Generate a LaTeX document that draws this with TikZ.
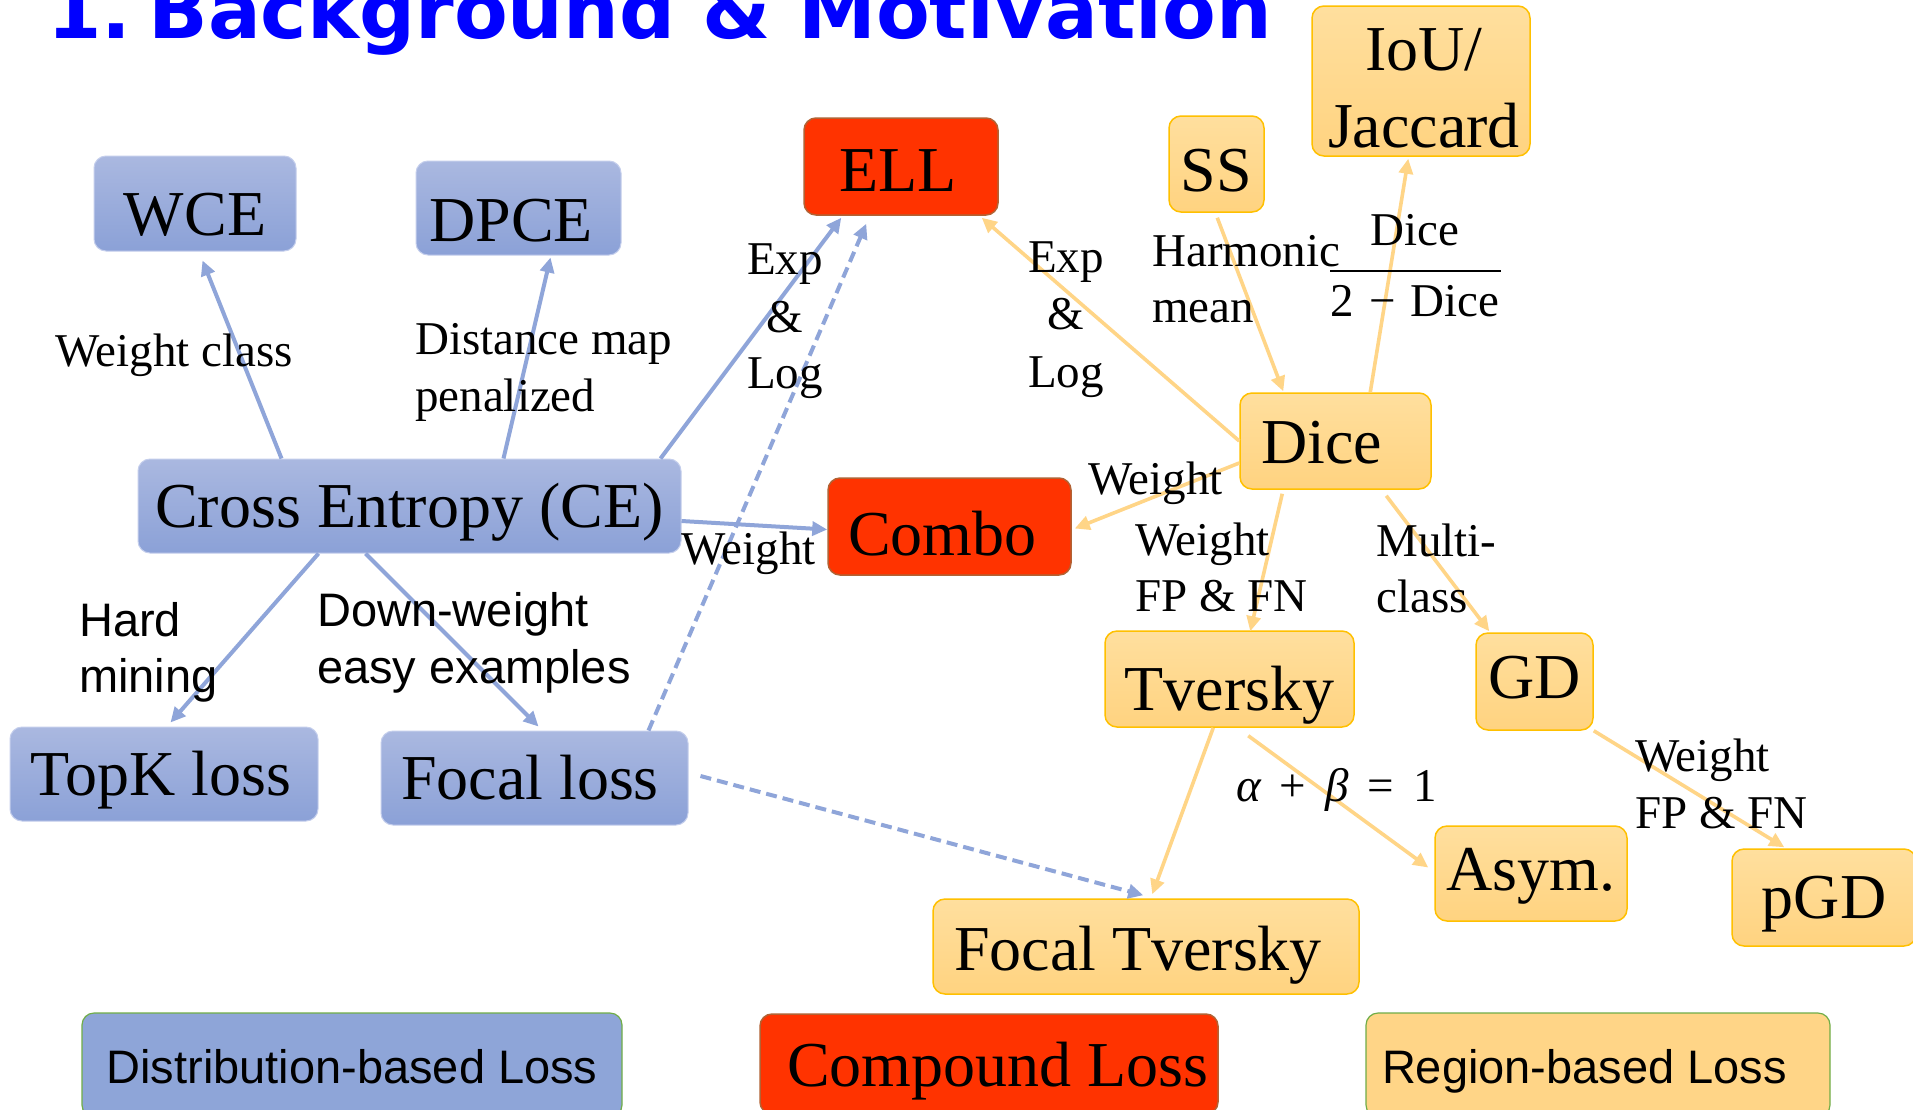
\documentclass[tikz,border=0pt]{standalone}
\usepackage{fontspec}
\setmainfont{Liberation Serif}
\setsansfont{Liberation Sans}
\newfontfamily\headfont{DejaVu Sans}
\usetikzlibrary{arrows.meta,calc}

\definecolor{blueTop}{RGB}{170,184,224}
\definecolor{blueBot}{RGB}{139,161,215}
\definecolor{blueRim}{RGB}{196,206,236}
\definecolor{blueLine}{RGB}{143,165,217}
\definecolor{orTop}{RGB}{255,223,158}
\definecolor{orBot}{RGB}{255,211,128}
\definecolor{orEdge}{RGB}{255,192,0}
\definecolor{orLine}{RGB}{255,213,135}
\definecolor{redFill}{RGB}{255,51,0}
\definecolor{redEdge}{RGB}{178,98,52}
\definecolor{legBlue}{RGB}{142,165,216}
\definecolor{legOr}{RGB}{255,213,135}
\definecolor{legEdge}{RGB}{112,173,71}
\definecolor{titleBlue}{RGB}{0,0,255}

% left-aligned box text of a given width (in pt)
\newcommand{\padl}[2]{\makebox[#1pt][l]{#2}}

\tikzset{
  wh/.style 2 args={minimum width=#1pt, minimum height=#2pt},
  lpad/.style={inner xsep=#1pt},
  box/.style={rounded corners=12pt, inner sep=0pt, text depth=0pt, text height=50pt,
    font=\fontsize{64}{77}\selectfont},
  distbox/.style={box, top color=blueTop, bottom color=blueBot, draw=blueRim, line width=1pt},
  regbox/.style={box, top color=orTop, bottom color=orBot, draw=orEdge, line width=1.5pt},
  compbox/.style={box, fill=redFill, draw=redEdge, line width=1.5pt},
  legbox/.style={box, draw=legEdge, line width=1.2pt, font=\fontsize{47}{57}\sffamily},
  nodetext/.style={inner sep=0pt, font=\fontsize{64}{77}\selectfont},
  lbl/.style={inner sep=0pt, anchor=base west, font=\fontsize{47}{57}\selectfont},
  clbl/.style={lbl, anchor=base},
  slbl/.style={lbl, font=\fontsize{47}{57}\sffamily},
  tip/.style={-{Triangle[length=15pt,width=14pt]}},
  bline/.style={draw=blueLine, line width=4pt, tip},
  bdash/.style={bline, dash pattern=on 11pt off 6pt},
  oline/.style={draw=orLine, line width=3.6pt, tip},
}

\begin{document}
\begin{tikzpicture}[x=1pt,y=-1pt]
\useasboundingbox (0,0) rectangle (1913,1109);
\fill[white] (0,0) rectangle (1913,1109);
\clip (0,0) rectangle (1913,1109);

% heading
\node[anchor=base west, inner sep=0pt, font=\fontsize{78.3}{90}\headfont\bfseries,
  text=titleBlue] (title) at (47,38) {1.\hspace{17pt}Background \& Motivation};

% distribution-based losses
\node[distbox, wh={202}{95}, text height=64pt] (wce) at (195,203.5) {WCE};
\node[distbox, wh={205}{94}, text height=66pt, lpad=13.5] (dpce) at (518.5,208) {\padl{178}{DPCE}};
\node[distbox, wh={543}{94}, text height=42pt] (ce) at (409.5,506) {Cross Entropy (CE)};
\node[distbox, wh={308}{94}, text height=43pt, lpad=20.5] (topk) at (164,774) {\padl{267}{TopK loss}};
\node[distbox, wh={307}{94}, text height=42pt, lpad=20] (focal) at (534.5,778) {\padl{267}{Focal loss}};

% compound losses
\node[compbox, wh={194}{97}, text height=50pt, lpad=35] (ell) at (901,166.5) {\padl{124}{ELL}};
\node[compbox, wh={243}{97}, text height=57pt, lpad=20] (combo) at (949.5,526.5) {\padl{203}{Combo}};

% region-based losses
\node[regbox, wh={95}{96}, text height=55pt] (ss) at (1216.5,164) {SS};
\node[regbox, wh={218}{150}] (iou) at (1421,81) {};
\node[nodetext, anchor=base] (iouA) at (1424,70) {IoU/};
\node[nodetext, anchor=base] (iouB) at (1424,147) {Jaccard};
\node[regbox, wh={191}{96}, text height=45pt, lpad=21] (dice) at (1335.5,441) {\padl{149}{Dice}};
\node[regbox, wh={249}{96}, text height=62pt] (tv) at (1229.5,679) {Tversky};
\node[regbox, wh={117}{97}, text height=33pt] (gd) at (1534.5,681.5) {GD};
\node[regbox, wh={192}{95}, text height=34pt] (asym) at (1531,873.5) {Asym.};
\node[regbox, wh={184}{97}, text height=42pt] (pgd) at (1824,897.5) {pGD};
\node[regbox, wh={426}{95}, text height=47pt, lpad=21] (ft) at (1146,946.5) {\padl{384}{Focal Tversky}};

% legend
\node[legbox, fill=legBlue, wh={540}{104}, text height=36pt] (legd) at (352,1065) {Distribution-based Loss};
\node[compbox, wh={458}{100}, text height=44pt, lpad=27] (legc) at (989,1064) {\padl{404}{Compound Loss}};
\node[legbox, fill=legOr, wh={464}{104}, text height=36pt, lpad=16] (legr) at (1598,1065) {\padl{432}{Region-based Loss}};

% connectors from cross entropy
\draw[bline] ([xshift=144pt]ce.north west) -- ([xshift=109pt,yshift=-9pt]wce.south west);
\draw[bline] ([xshift=366pt]ce.north west) -- ([xshift=135pt,yshift=-2pt]dpce.south west);
\draw[bline] ([xshift=-21pt]ce.north east) -- ([xshift=38pt,yshift=-2pt]ell.south west);
\draw[bline] ([yshift=-15pt]ce.east) -- ([yshift=-3pt]combo.west);
\draw[bline] ([xshift=181pt]ce.south west) -- ([xshift=161pt,yshift=4pt]topk.north west);
\draw[bline] ([xshift=228pt]ce.south west) -- ([xshift=158pt,yshift=4pt]focal.north west);
\draw[bdash] ([xshift=268pt]focal.north west) -- ([xshift=63pt,yshift=-8pt]ell.south west);
\draw[bdash] ([xshift=12pt,yshift=2pt]focal.east) -- ([xshift=211pt,yshift=3pt]ft.north west);

% connectors around dice
\draw[oline] (dice.west) -- ([xshift=-17pt,yshift=-2pt]ell.south east);
\draw[oline] ([xshift=49pt,yshift=-5pt]ss.south west) -- ([xshift=44pt,yshift=1pt]dice.north west);
\draw[oline] ([xshift=131pt]dice.north west) -- ([xshift=97pt,yshift=-2pt]iou.south west);
\draw[oline] ([yshift=-22pt]dice.west) -- ([xshift=3pt,yshift=-2pt]combo.east);
\draw[oline] ([xshift=43pt,yshift=-4pt]dice.south west) -- ([xshift=146pt,yshift=-1pt]tv.north west);
\draw[oline] ([xshift=147pt,yshift=-6pt]dice.south west) -- ([xshift=14pt,yshift=1pt]gd.north west);
\draw[oline] (gd.south east) -- ([xshift=53pt,yshift=1pt]pgd.north west);
\draw[oline] ([xshift=109pt]tv.south west) -- ([xshift=220pt,yshift=4pt]ft.north west);
\draw[oline] ([xshift=144pt,yshift=-8pt]tv.south west) -- ([xshift=-6pt,yshift=6pt]asym.west);

% connector labels
\node[lbl] (lwc) at (55,366) {Weight class};
\node[lbl] (ldmA) at (415,354) {Distance map};
\node[lbl] (ldmB) at (415,411) {penalized};
\node[clbl] (lelA) at (785,274.5) {Exp};
\node[clbl] (lelB) at (785,332) {\&};
\node[clbl] (lelC) at (785,388) {Log};
\node[clbl] (lerA) at (1066,272) {Exp};
\node[clbl] (lerB) at (1066,329) {\&};
\node[clbl] (lerC) at (1066,387) {Log};
\node[lbl] (lhmA) at (1152,266) {Harmonic};
\node[lbl] (lhmB) at (1152,322) {mean};
\node[clbl] (fracnum) at (1415,245) {Dice};
\node[clbl] (fracden) at (1415,316) {2\hspace{15pt}−\hspace{15pt}Dice};
\coordinate (barL) at (1330,271);
\coordinate (barR) at (1501,271);
\draw[line width=2.6pt] (barL) -- (barR);
\node[lbl] (lwA) at (681,564) {Weight};
\node[lbl] (lwB) at (1088,494) {Weight};
\node[lbl] (lfpA) at (1135,555) {Weight};
\node[lbl] (lfpB) at (1135,611) {FP \& FN};
\node[lbl] (lmcA) at (1376,556) {Multi-};
\node[lbl] (lmcB) at (1376,612) {class};
\node[slbl] (lhA) at (79,636) {Hard};
\node[slbl] (lhB) at (79,692) {mining};
\node[slbl] (ldwA) at (317,626) {Down-weight};
\node[slbl] (ldwB) at (317,683) {easy examples};
\node[lbl] (lab) at (1236,801) {{\itshape α}\hspace{19pt}+\hspace{19pt}{\itshape β}\hspace{19pt}=\hspace{19pt}1};
\node[lbl] (lgpA) at (1635,771) {Weight};
\node[lbl] (lgpB) at (1635,828) {FP \& FN};
\end{tikzpicture}
\end{document}
